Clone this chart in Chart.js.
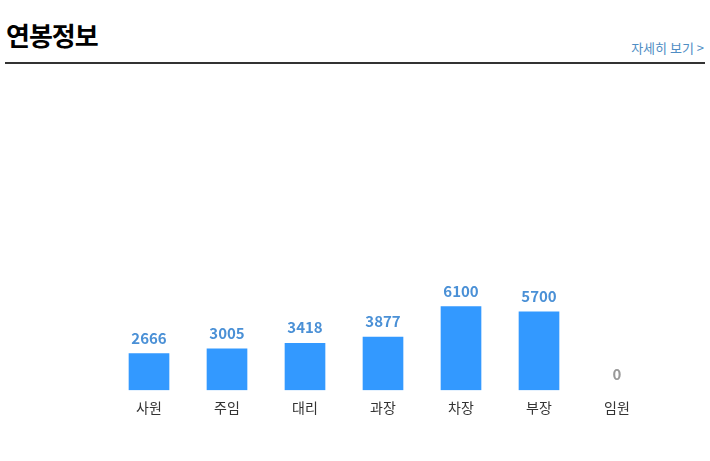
<!DOCTYPE html>
<html>
<head>
<meta charset="utf-8">
<script src="https://cdn.jsdelivr.net/npm/chart.js@4"></script>
<style>
  body { margin: 0; background: #fff; font-family: "Noto Sans CJK KR", sans-serif; }
  .wrap { position: relative; width: 710px; height: 461px; }
  .title { position: absolute; left: 6px; top: 16px; font-size: 26px; font-weight: bold; color: #000; letter-spacing: -1px; }
  .more { position: absolute; right: 6px; top: 38px; font-size: 13px; color: #4f8dc4; }
  .line { position: absolute; left: 5px; right: 5px; top: 62px; height: 2px; background: #333; }
  .chartBox { position: absolute; left: 110px; top: 47px; width: 546px; height: 370px; }
</style>
</head>
<body>
<div class="wrap">
  <div class="title">연봉정보</div>
  <div class="more">자세히 보기 &gt;</div>
  <div class="line"></div>
  <div class="chartBox"><canvas id="salaryChart"></canvas></div>
</div>
<script>
const positions = ['사원', '주임', '대리', '과장', '차장', '부장', '임원'];
const salaries = [2666, 3005, 3418, 3877, 6100, 5700, 0];

/* value labels above bars */
const valueLabels = {
    id: 'valueLabels',
    afterDatasetsDraw(chart) {
        const ctx = chart.ctx;
        const meta = chart.getDatasetMeta(0);
        ctx.save();
        ctx.font = 'bold 15px "Noto Sans CJK KR", sans-serif';
        ctx.textAlign = 'center';
        ctx.textBaseline = 'bottom';
        meta.data.forEach(function (bar, i) {
            const v = salaries[i];
            ctx.fillStyle = v === 0 ? '#999999' : '#4a90d6';
            ctx.fillText(String(v), bar.x, bar.y - 8);
        });
        ctx.restore();
    }
};

new Chart(document.getElementById('salaryChart'), {
    type: 'bar',
    data: {
        labels: positions,
        datasets: [{
            data: salaries,
            backgroundColor: function (context) {
                return context.raw === 0 ? 'rgba(0,0,0,0)' : '#3399ff';
            },
            barThickness: 40,
            maxBarThickness: 40
        }]
    },
    options: {
        responsive: true,
        maintainAspectRatio: false,
        animation: false,
        layout: { padding: 0 },
        plugins: { legend: { display: false }, tooltip: { enabled: false } },
        scales: {
            y: { display: false, beginAtZero: true, min: 0, max: 25000 },
            x: {
                grid: { display: false },
                border: { display: false },
                ticks: { color: '#333', padding: 1, font: { size: 14, family: '"Noto Sans CJK KR", sans-serif' } }
            }
        }
    },
    plugins: [valueLabels]
});
</script>
</body>
</html>
